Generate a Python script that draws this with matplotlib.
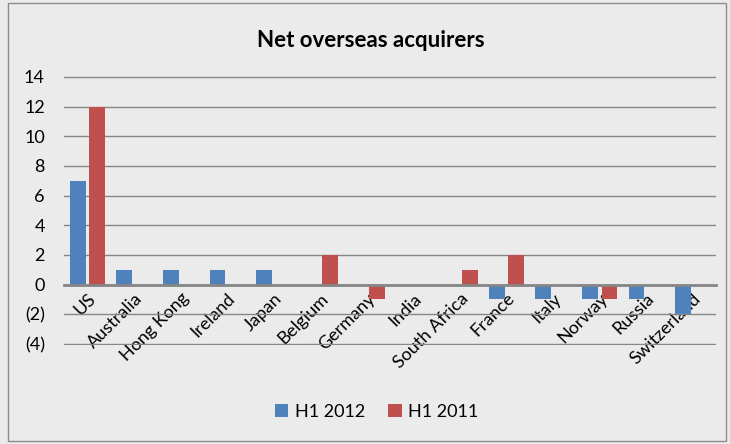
import numpy as np
import matplotlib.pyplot as plt
from matplotlib.patches import Rectangle

countries = ['US', 'Australia', 'Hong Kong', 'Ireland', 'Japan', 'Belgium', 'Germany',
             'India', 'South Africa', 'France', 'Italy', 'Norway', 'Russia', 'Switzerland']
h1_2012 = [7, 1, 1, 1, 1, 0, 0, 0, 0, -1, -1, -1, -1, -2]
h1_2011 = [12, 0, 0, 0, 0, 2, -1, 0, 1, 2, 0, -1, 0, 0]
y_ticks = [-4, -2, 0, 2, 4, 6, 8, 10, 12, 14]

plt.rcParams['font.family'] = ['Lato', 'DejaVu Sans']
bg = '#EBEBEB'

fig = plt.figure(figsize=(7.3, 4.44), dpi=100, facecolor=bg)
fig.patches.append(Rectangle((0.011, 0.006), 0.983, 0.988, transform=fig.transFigure,
                             fill=False, edgecolor='#8C8C8C', linewidth=1))
ax = fig.add_axes([0.088, 0.222, 0.893, 0.608], facecolor=bg)

x = np.arange(len(countries))
w = 0.34
ax.bar(x - 0.21, h1_2012, width=w, color='#4F81BD', label='H1 2012', zorder=3)
ax.bar(x + 0.21, h1_2011, width=w, color='#C0504D', label='H1 2011', zorder=3)

ax.set_xlim(-0.5, len(countries) - 0.5)
ax.set_ylim(-4.1, 14.1)
ax.set_yticks(y_ticks)
ax.set_yticklabels([f'({-v})' if v < 0 else str(v) for v in y_ticks], fontsize=13)
ax.yaxis.grid(True, color='#868686', linewidth=1, zorder=0)
ax.tick_params(axis='y', length=0, pad=14)

for s in ['top', 'right', 'left']:
    ax.spines[s].set_visible(False)
ax.spines['bottom'].set_position(('data', 0))
ax.spines['bottom'].set_color('#868686')
ax.spines['bottom'].set_linewidth(2)
ax.spines['bottom'].set_zorder(4)

ax.set_xticks(x)
ax.set_xticklabels(countries, rotation=45, ha='right', rotation_mode='anchor', fontsize=13)
ax.tick_params(axis='x', length=0, pad=4)

fig.text(0.508, 0.908, 'Net overseas acquirers', ha='center', va='center',
         fontsize=16, fontweight='bold')
fig.legend(loc='center', bbox_to_anchor=(0.516, 0.072), ncol=2, frameon=False,
           fontsize=13, handlelength=0.75, handleheight=0.75, columnspacing=1.3,
           handletextpad=0.35)

fig.savefig('out.png', dpi=100, facecolor=bg)
